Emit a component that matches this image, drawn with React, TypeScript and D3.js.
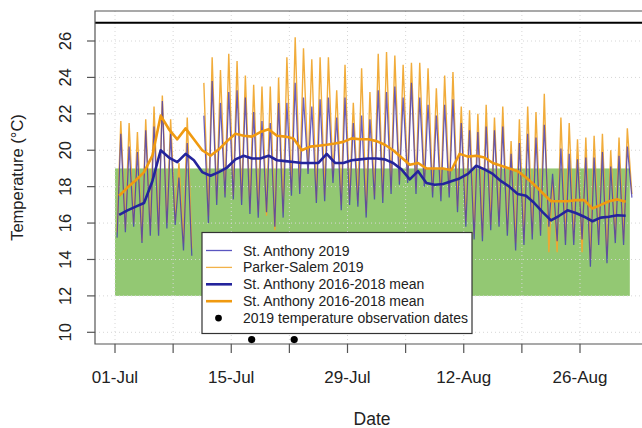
import React, { useEffect, useRef } from 'react';
import * as d3 from 'd3';

// daily readings, index 0 = 01-Jul-2019
const saMax = [20.9, 20.2, 19.9, 21.1, 21.3, 22.7, 20.9, 18.5, 20.4, null, 21.9, 23.8, 22.6, 23.2, 23.3, 22.9, 22.1, 21.6, 21.5, 22.6, 22.6, 23.7, 22.9, 22.4, 22.8, 22.9, 21.8, 22.9, 21.5, 21.9, 21.7, 23.3, 23.2, 23.5, 22.9, 23.7, 22.9, 22.5, 21.9, 22.5, 22.8, 21.5, 21.1, 21.0, 21.3, 21.1, 21.3, 19.8, 20.4, 20.9, 20.7, 21.4, 18.7, 20.1, 19.8, 19.5, 19.6, 19.6, 19.9, 19.1, 19.7, 20.2];
const saMin = [15.2, 15.5, 15.8, 14.9, 15.3, 15.3, 15.7, 15.9, 14.5, 14.2, null, 16.0, 17.0, 17.4, 17.3, 17.0, 16.5, 16.3, 16.6, 15.8, 16.3, 17.5, 17.6, 18.7, 17.1, 17.2, 18.2, 16.7, 17.0, 16.9, 16.3, 17.3, 17.1, 17.6, 18.1, 18.2, 17.6, 18.0, 17.4, 17.2, 17.4, 16.6, 15.8, 15.1, 15.0, 15.6, 15.8, 15.3, 14.5, 14.8, 15.1, 15.3, 15.8, 15.0, 14.8, 14.8, 15.1, 13.6, 14.8, 13.8, 14.9, 14.8, 17.4];
const psMax = [21.6, 21.5, 21.0, 21.7, 22.4, 23.0, 21.7, 19.3, 21.8, null, 23.7, 25.1, 24.4, 25.3, 24.9, 24.1, 23.6, 23.5, 23.5, 24.0, 25.1, 26.2, 25.6, 25.0, 25.1, 25.1, 23.3, 24.7, 22.6, 24.5, 23.2, 25.3, 25.4, 25.2, 24.7, 24.8, 24.8, 24.5, 23.4, 24.1, 24.3, 22.4, 22.2, 22.0, 22.5, 21.8, 22.4, 20.5, 21.7, 22.4, 22.1, 23.1, 18.4, 21.8, 21.5, 20.6, 20.7, 20.8, 20.9, 20.0, 20.7, 21.2];
const psMin = [15.5, 15.7, 16.0, 15.0, 15.6, 15.6, 16.0, 16.1, 14.9, 14.6, null, 16.4, 17.3, 17.6, 17.5, 17.3, 16.8, 16.6, 16.4, 15.6, 16.6, 17.8, 17.9, 18.9, 17.3, 17.5, 18.5, 17.0, 17.3, 17.2, 16.6, 17.5, 17.4, 17.9, 18.3, 18.4, 17.9, 18.2, 17.7, 17.5, 17.7, 16.9, 16.1, 15.4, 15.3, 15.9, 16.1, 15.6, 14.9, 15.1, 15.4, 15.6, 14.4, 14.4, 15.1, 15.1, 14.4, 14.0, 15.1, 14.2, 15.2, 15.1, 17.6];
const saMean = [16.45, 16.7, 16.9, 17.1, 18.3, 20.0, 19.6, 19.35, 19.8, 19.45, 18.8, 18.6, 18.8, 19.05, 19.5, 19.7, 19.55, 19.55, 19.7, 19.45, 19.4, 19.35, 19.3, 19.3, 19.3, 19.8, 19.3, 19.3, 19.45, 19.5, 19.55, 19.55, 19.5, 19.3, 18.95, 18.4, 18.85, 18.2, 18.1, 18.15, 18.3, 18.45, 18.7, 19.15, 18.95, 18.7, 18.3, 18.0, 17.6, 17.5, 17.1, 16.6, 16.15, 16.4, 16.7, 16.55, 16.35, 16.1, 16.3, 16.35, 16.43, 16.4];
const psMean = [17.5, 17.95, 18.35, 18.8, 19.7, 21.9, 21.15, 20.6, 21.2, 20.6, 20.0, 19.7, 20.05, 20.5, 20.9, 20.8, 20.75, 21.0, 21.15, 20.8, 20.75, 20.65, 20.0, 20.2, 20.25, 20.3, 20.37, 20.46, 20.65, 20.6, 20.6, 20.5, 20.3, 20.0, 19.6, 19.2, 19.3, 19.0, 19.0, 19.0, 18.9, 19.8, 19.65, 19.7, 19.6, 19.3, 19.15, 19.0, 18.85, 18.5, 18.1, 17.65, 17.2, 17.2, 17.2, 17.26, 17.26, 16.8, 17.0, 17.2, 17.3, 17.17];

const obsDates = ['2019-07-17T11:00Z', '2019-07-22T14:00Z'];
const obsLevel = 9.6;
const targetBand = [12, 19];
const upperLimit = 27;
const yTicks = [10, 12, 14, 16, 18, 20, 22, 24, 26];
const xTickDates = ['2019-07-01', '2019-07-08', '2019-07-15', '2019-07-22', '2019-07-29', '2019-08-05', '2019-08-12', '2019-08-19', '2019-08-26'];
const xTickLabels = ['01-Jul', '', '15-Jul', '', '29-Jul', '', '12-Aug', '', '26-Aug'];

const legendItems = [
  { label: 'St. Anthony 2019', color: '#5a55c0', width: 1.3 },
  { label: 'Parker-Salem 2019', color: '#f2b24a', width: 1.3 },
  { label: 'St. Anthony 2016-2018 mean', color: '#24249c', width: 2.6 },
  { label: 'St. Anthony 2016-2018 mean', color: '#f09a10', width: 2.6 },
  { label: '2019 temperature observation dates', color: '#000', width: 0 },
];

const START = Date.UTC(2019, 6, 1);
const DAY = 864e5;
const MIN_FRAC = 0.25;
const MAX_FRAC = 0.7;
const at = (t) => new Date(START + t * DAY);

const App = () => {
  const svgRef = useRef(null);

  useEffect(() => {
    const svg = d3.select(svgRef.current);
    svg.selectAll('*').remove();
    const font = 'Liberation Sans, Arial, sans-serif';

    const left = 95, top = 11, bottom = 344, right = 660;

    const x = d3.scaleUtc()
      .domain([new Date(xTickDates[0]), new Date(xTickDates[xTickDates.length - 1])])
      .range([115, 580]);
    const y = d3.scaleLinear().domain([10, 26]).range([332.3, 41]);

    // target band
    svg.append('rect')
      .attr('x', x(at(0)))
      .attr('y', y(targetBand[1]))
      .attr('width', x(at(saMax.length)) - x(at(0)))
      .attr('height', y(targetBand[0]) - y(targetBand[1]))
      .attr('fill', '#93c873');

    // grid
    const grid = svg.append('g').attr('stroke', '#d6d6d6').attr('stroke-dasharray', '1,3');
    xTickDates.forEach(d => {
      grid.append('line').attr('x1', x(new Date(d))).attr('x2', x(new Date(d)))
        .attr('y1', top).attr('y2', bottom);
    });
    yTicks.forEach(v => {
      grid.append('line').attr('x1', left).attr('x2', right).attr('y1', y(v)).attr('y2', y(v));
    });

    const diurnal = (mins, maxs) => {
      const pts = [];
      mins.forEach((mn, i) => {
        pts.push({ t: i + MIN_FRAC, v: mn });
        if (i < maxs.length) pts.push({ t: i + MAX_FRAC, v: maxs[i] });
      });
      return pts;
    };

    const line = d3.line()
      .defined(d => d.v != null)
      .x(d => x(at(d.t)))
      .y(d => y(d.v));

    svg.append('path').datum(diurnal(psMin, psMax))
      .attr('d', line).attr('fill', 'none')
      .attr('stroke', '#f0a830').attr('stroke-width', 1.4).attr('stroke-opacity', 0.95);

    svg.append('path').datum(diurnal(saMin, saMax))
      .attr('d', line).attr('fill', 'none')
      .attr('stroke', '#4438b0').attr('stroke-width', 1.25).attr('stroke-opacity', 0.8);

    const meanPts = arr => arr.map((v, i) => ({ t: i + 0.5, v }));
    svg.append('path').datum(meanPts(psMean))
      .attr('d', line).attr('fill', 'none')
      .attr('stroke', '#f09a10').attr('stroke-width', 2.6).attr('stroke-linejoin', 'round');
    svg.append('path').datum(meanPts(saMean))
      .attr('d', line).attr('fill', 'none')
      .attr('stroke', '#24249c').attr('stroke-width', 2.6).attr('stroke-linejoin', 'round');

    // upper limit
    svg.append('line')
      .attr('x1', left).attr('x2', right)
      .attr('y1', y(upperLimit)).attr('y2', y(upperLimit))
      .attr('stroke', '#000').attr('stroke-width', 2);

    // observation dates
    svg.selectAll('.obs').data(obsDates).enter().append('circle')
      .attr('cx', d => x(new Date(d))).attr('cy', y(obsLevel))
      .attr('r', 3.6).attr('fill', '#000');

    // frame
    svg.append('path')
      .attr('d', `M${right},${top}H${left}V${bottom}H${right}`)
      .attr('fill', 'none').attr('stroke', '#555').attr('stroke-width', 1.2);

    // y axis
    const ya = svg.append('g');
    yTicks.forEach(v => {
      ya.append('line').attr('x1', left - 8).attr('x2', left).attr('y1', y(v)).attr('y2', y(v))
        .attr('stroke', '#555').attr('stroke-width', 1.2);
      ya.append('text')
        .attr('transform', `translate(71,${y(v)}) rotate(-90)`)
        .attr('text-anchor', 'middle')
        .attr('font-family', font).attr('font-size', 16.5).attr('fill', '#222')
        .text(v);
    });

    // x axis
    const xa = svg.append('g');
    xTickDates.forEach((d, i) => {
      const px = x(new Date(d));
      xa.append('line').attr('x1', px).attr('x2', px).attr('y1', bottom).attr('y2', bottom + 9)
        .attr('stroke', '#555').attr('stroke-width', 1.2);
      if (xTickLabels[i]) {
        xa.append('text').attr('x', px).attr('y', 383)
          .attr('text-anchor', 'middle')
          .attr('font-family', font).attr('font-size', 17).attr('fill', '#222')
          .text(xTickLabels[i]);
      }
    });

    svg.append('text').attr('x', 372).attr('y', 425).attr('text-anchor', 'middle')
      .attr('font-family', font).attr('font-size', 17.5).attr('fill', '#222').text('Date');
    svg.append('text')
      .attr('transform', `translate(23,${(top + bottom) / 2}) rotate(-90)`)
      .attr('text-anchor', 'middle')
      .attr('font-family', font).attr('font-size', 16.5).attr('fill', '#222')
      .text('Temperature (°C)');

    // legend
    const lg = svg.append('g');
    lg.append('rect').attr('x', 202).attr('y', 232.5).attr('width', 270).attr('height', 101)
      .attr('fill', '#fff').attr('stroke', '#333').attr('stroke-width', 1.2);
    legendItems.forEach((item, i) => {
      const cy = 250.5 + i * 16.9;
      if (item.width > 0) {
        lg.append('line').attr('x1', 206).attr('x2', 232).attr('y1', cy).attr('y2', cy)
          .attr('stroke', item.color).attr('stroke-width', item.width);
      } else {
        lg.append('circle').attr('cx', 218.5).attr('cy', cy).attr('r', 3.4).attr('fill', item.color);
      }
      lg.append('text').attr('x', 243).attr('y', cy + 5)
        .attr('font-family', font).attr('font-size', 14).attr('fill', '#222')
        .text(item.label);
    });
  }, []);

  return <svg ref={svgRef} width={642} height={428}
    style={{ position: 'fixed', left: 0, top: 0, background: '#fff' }} />;
};

export default App;
